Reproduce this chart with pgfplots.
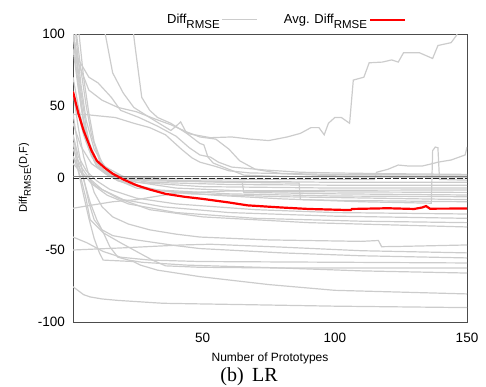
\documentclass[border=0pt]{standalone}
\usepackage{fontspec}
\setmainfont{Liberation Sans}
\newfontfamily\capfont{Liberation Serif}
\usepackage{pgfplots}
\pgfplotsset{compat=1.18}
\newcommand{\rmse}[1]{\raisebox{-0.36em}{\fontsize{#1}{#1}\selectfont RMSE}}
\definecolor{lg}{RGB}{204,204,204}
\begin{document}
\begin{tikzpicture}
\begin{axis}[
  scale only axis, width=394pt, height=288pt,
  xmin=1, xmax=150, ymin=-100, ymax=100,
  xtick={50,100,150}, xticklabels={50,100,150},
  ytick={-100,-50,0,50,100}, yticklabels={-100,-50,0,50,100},
  major tick length=0pt,
  axis line style={black!70, line width=0.8pt},
  tick label style={font=\fontsize{13.5}{14}\selectfont},
  xticklabel style={anchor=base, yshift=-20pt},
  yticklabel style={anchor=east, inner sep=0pt, xshift=-8pt},
  every axis x label/.style={at={(axis description cs:0.5,0)}, anchor=base, yshift=-39pt, font=\fontsize{12}{13}\selectfont},
  every axis y label/.style={at={(axis description cs:-0.122,0.5)}, rotate=90, anchor=center},
  xlabel={Number of Prototypes},
  ylabel={\fontsize{11}{12}\selectfont Diff\rmse{9.7}(D,F)},
  legend plot pos=right,
  legend columns=2,
  legend image code/.code={\draw[#1] (0pt,0pt) -- (35pt,0pt);},
  legend style={draw=none, fill=none, inner xsep=0pt, at={(axis description cs:0.2335,1.049)}, anchor=west,
    font=\fontsize{13}{14}\selectfont,
    nodes={inner xsep=2pt},
    /tikz/every even column/.append style={column sep=24pt}},
  every axis plot/.append style={line width=1.2pt, lg},
]
% ---- gray series ----
\addplot[lg] coordinates {(12.5,106)(13.2,100)(16,73)(20,59)(24,49)(30,42)(38,33)(40,36)(41.7,39)(44,31)(53,28)(61,28.5)(68,27)(75,26)(82,28.5)(87,31)(91,35)(94,35)(96,30)(97.6,38)(100,42)(102.5,42)(105.6,38)(107,68)(109,69)(111,70)(113,80)(118,80.5)(121.5,82)(124,80.5)(126,87)(132,87)(137,83)(139,92)(144,94)(146,99)(147.5,106)};
\addlegendentry{Diff\rmse{11.5}\hspace{6pt}}
\addplot[forget plot] coordinates {(23.5,106)(24.5,91)(26,70)(27,56)(30,47)(33,42)(38,38)(44,31)(49,24)(50.5,23)(52,14.6)(54,10.4)(60,6)(65.6,2)(80,1)(150,0.3)};
\addplot[forget plot] coordinates {(1,100)(2.5,84)(7,70)(10.5,66)(15.5,56)(19,47)(26,42)(33,36)(40,29)(45,21)(49,16)(53,14.5)(56,11)(61,7.6)(74,5.5)(87,4)(100,3.5)(120,3)(150,2.5)};
\addplot[forget plot] coordinates {(1,44)(6,44)(17,42)(24,38)(30,35)(36,30)(42,20)(46,14)(49,11)(55,8)(60,5)(68,3.5)(100,2.5)(150,2)};
\addplot[forget plot] coordinates {(1,100)(3,80)(7,61)(12,54)(18,49)(25,46)(32,41)(38,37)(44,32)(49,28.5)(55,27)(60,20)(64,12)(70,6)(80,3)(100,1.5)(150,1)};
\addplot[forget plot] coordinates {(1,102)(2,80)(4,50)(6,28)(9,12)(13,5)(20,1)(40,-0.5)(80,-1)(115,-1)(115.8,4)(120,6)(124,9)(128,8.3)(133,8.3)(137,10)(139,11)(144,12.5)(147,14.5)(149.3,16)(150,21.5)};
\addplot[forget plot] coordinates {(1,38)(4,22)(8,10)(14,2)(22,-4)(35,-9)(55,-12)(80,-14.5)(110,-16.5)(136.5,-17.5)(137,19)(138,21.5)(139,21)(139.6,-1)(150,-1.5)};
\addplot[forget plot] coordinates {(1,105)(3,70)(5,40)(7,20)(10,8)(15,2)(25,-1)(50,-2)(100,-3)(150,-3)};
\addplot[forget plot] coordinates {(1,100)(2,90)(4,60)(6,35)(8,18)(12,6)(18,0)(30,-3)(60,-4.5)(100,-5)(150,-5)};
\addplot[forget plot] coordinates {(2,105)(4,75)(6,50)(8,30)(11,12)(16,3)(25,-3)(50,-6)(100,-7)(150,-7)};
\addplot[forget plot] coordinates {(1,90)(3,62)(5,40)(7,25)(10,12)(15,4)(22,-2)(40,-7)(65.6,-9)(80,-9.5)(150,-10)};
\addplot[forget plot] coordinates {(1,70)(3,50)(6,25)(10,8)(15,1)(30,-2)(65,-3)(65.6,-10)(100,-11)(150,-11.8)};
\addplot[forget plot] coordinates {(1,60)(3,45)(5,30)(8,15)(12,5)(18,-2)(30,-8)(60,-11)(100,-12.5)(150,-13)};
\addplot[forget plot] coordinates {(2,100)(4,65)(6,40)(9,20)(13,8)(20,1)(40,-2)(60,-3)(86.5,-3.5)(87,-15)(100,-15.5)(150,-16.5)};
\addplot[forget plot] coordinates {(3,105)(5,70)(7,45)(9,25)(12,10)(16,0)(25,-7)(45,-11)(80,-13)(150,-15)};
\addplot[forget plot] coordinates {(1,30)(3,15)(6,5)(10,-2)(15,-8)(25,-14)(40,-18)(70,-22)(100,-24)(150,-25)};
\addplot[forget plot] coordinates {(1,20)(4,8)(7,0)(12,-8)(20,-15)(35,-20)(60,-24)(100,-26.5)(150,-28)};
\addplot[forget plot] coordinates {(1,15)(4,5)(8,-4)(14,-12)(22,-18)(40,-24)(70,-28)(110,-30)(150,-31)};
\addplot[forget plot] coordinates {(1,10)(5,2)(10,-6)(18,-14)(30,-22)(50,-27)(90,-31)(150,-34)};
\addplot[forget plot] coordinates {(1,-21)(7.5,-19)(16,-16.5)(25,-15)(40,-10.5)(60,-9)(100,-8.5)(150,-8.3)};
\addplot[forget plot] coordinates {(1,60)(3,35)(5,15)(7,2)(9,-10)(12,-20)(16,-27)(22,-32)(30,-36)(40,-39)(49,-41)(75,-43)(110,-44)(116.5,-43.4)(117.7,-47.7)(125,-47.5)(150,-46.5)};
\addplot[forget plot] coordinates {(1,-50)(20,-48.5)(42,-46.5)(53,-46)(80,-48)(110,-50.5)(150,-52)};
\addplot[forget plot] coordinates {(1,45)(3,20)(5,0)(7,-17)(9,-29)(12,-36)(16,-40)(25,-43)(40,-47)(49,-49)(80,-52)(110,-54)(150,-55.5)};
\addplot[forget plot] coordinates {(1,-41)(6.3,-45)(12.4,-51)(19,-55)(30,-57)(49,-58)(100,-58.5)(150,-59)};
\addplot[forget plot] coordinates {(1,30)(3,10)(5,-1)(7.5,-17)(10,-29)(12.5,-38)(15,-48)(18,-55)(22,-57)(27,-58.5)(44,-60.5)(80,-62.5)(110,-64.5)(150,-66)};
\addplot[forget plot] coordinates {(1,15)(4,0)(6,-15)(7.5,-29)(12.4,-38)(19,-45)(25,-51)(31,-57)(36,-61)(49,-62)(80,-62.5)(110,-62.5)(150,-62.5)};
\addplot[forget plot] coordinates {(1,25)(3,5)(5,-12)(7,-28)(9,-42)(11,-52)(12.4,-57)(23.8,-58)(26.5,-60.5)(33,-64)(49,-68.5)(75,-74)(100,-78)(150,-80.5)};
\addplot[forget plot] coordinates {(1,-75.5)(5,-81)(7.5,-82.6)(12,-84)(18,-85)(35,-87)(68,-88)(100,-89)(150,-90)};
% ---- dark lines near zero ----
\addplot[forget plot, black!50, line width=1pt] coordinates {(1,1.3)(150,1.3)};
\addplot[forget plot, black!85, line width=0.9pt, dash pattern=on 6pt off 2pt] coordinates {(1,0)(150,0)};
% ---- average ----
\addplot[red, line width=2.2pt] coordinates {(1,60)(3,45)(5,33)(8,19)(10,12)(13,7)(16,3)(20,-1)(25,-5)(30,-8)(36,-11)(43,-13)(50,-14.5)(60,-17)(67,-19)(80,-20.5)(90,-21.5)(100,-22)(106,-22.3)(106.5,-21.5)(120,-21)(130,-21.5)(133,-20.5)(134.5,-19.5)(136,-21.3)(150,-21.2)};
\addlegendentry{Avg. Diff\rmse{11.5}\hspace{4pt}}
\end{axis}
\node[font=\capfont\fontsize{20}{22}\selectfont, anchor=base] at (176pt,-59pt) {(b)\, LR};
\pgfresetboundingbox
\path[use as bounding box] (-73pt,-64pt) rectangle (413pt,322pt);
\end{tikzpicture}
\end{document}
